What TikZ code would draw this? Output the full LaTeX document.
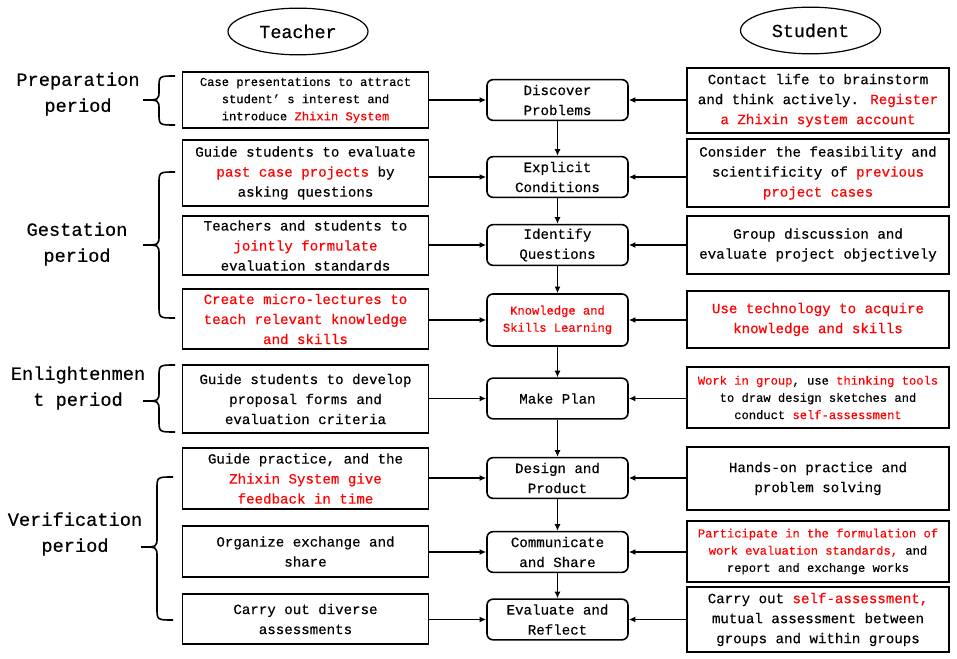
\documentclass[tikz,border=0pt]{standalone}
\usepackage{fontspec}
\setmainfont[FakeBold=0.4,AutoFakeBold=0.4]{Liberation Mono}
\usetikzlibrary{shapes.geometric,arrows.meta}
\definecolor{hl}{RGB}{255,0,0}
\newcommand{\marked}[1]{\textcolor{hl}{#1}}
\newcommand{\roleoval}[3]{%
 \node[role] ({#1}) at ({#2}) {#3};%
}
\newcommand{\periodlabel}[3]{%
 \node[period] ({#1}) at ({#2}) {#3};%
}
\newcommand{\taskbox}[4][]{%
 \node[task,#1] ({#2}) at ({#3}) {\bfseries #4};%
}
\newcommand{\studentbox}[4][]{%
 \node[task,minimum width=196.5pt,#1] ({#2}) at ({#3}) {\bfseries #4};%
}
\newcommand{\stepnode}[4][]{%
 \node[stepbox,#1] ({#2}) at ({#3}) {\bfseries #4};%
}
% right x, top y, bottom y, tip y
\newcommand{\periodbrace}[4]{%
 \draw[line width=1.2pt] (#1,#2) .. controls (#1-16,#2) .. (#1-16,#2+12) -- (#1-16,#4-10)
   .. controls (#1-16,#4) .. (#1-32,#4) .. controls (#1-16,#4) .. (#1-16,#4+10)
   -- (#1-16,#3-12) .. controls (#1-16,#3) .. (#1,#3);%
}

\begin{document}
\begin{tikzpicture}[x=0.75pt,y=-0.75pt,
  every node/.style={align=center,inner sep=0pt},
  role/.style={draw,ellipse,line width=0.9pt,minimum width=105pt,minimum height=35pt,
    font=\fontsize{13.8}{18}\selectfont},
  period/.style={font=\fontsize{14}{19.5}\selectfont},
  task/.style={draw,line width=1.2pt,minimum width=184.5pt,
    font=\fontsize{10.6}{15}\selectfont},
  stepbox/.style={draw,line width=1.2pt,rounded corners=4.5pt,minimum width=105.75pt,
    minimum height=30.5pt,font=\fontsize{10.6}{15}\selectfont},
  small/.style={font=\fontsize{9.1}{12.9}\selectfont},
  flow/.style={line width=1.3pt,-{Latex[length=5pt,width=4.5pt]}}]
  \useasboundingbox (0,0) rectangle (957,659);

  \roleoval{teacher}{298,31.5}{Teacher}
  \roleoval{student}{810.5,30.5}{Student}

  \periodlabel{prep}{78,94}{Preparation\\period}
  \periodlabel{gest}{77,244}{Gestation\\period}
  \periodlabel{enl}{78,388}{Enlightenmen\\t period}
  \periodlabel{veri}{75,534}{Verification\\period}
  \periodbrace{175}{76}{125}{100}
  \periodbrace{175}{172}{318}{245}
  \periodbrace{175}{365}{432}{401}
  \periodbrace{173}{477}{620}{547}

  \taskbox[small,minimum height=42pt]{t1}{305.5,100}{Case presentations to attract\\student’ s interest and\\introduce \marked{Zhixin System}}
  \taskbox[minimum height=49.5pt]{t2}{305.5,173}{Guide students to evaluate\\\marked{past case projects} by\\asking questions}
  \taskbox[minimum height=44.25pt]{t3}{305.5,245.5}{Teachers and students to\\\marked{jointly formulate}\\evaluation standards}
  \taskbox[minimum height=45pt]{t4}{305.5,319}{\marked{Create micro-lectures to}\\\marked{teach relevant knowledge}\\\marked{and skills}}
  \taskbox[minimum height=51pt]{t5}{305.5,399}{Guide students to develop\\proposal forms and\\evaluation criteria}
  \taskbox[minimum height=45.75pt]{t6}{305.5,478.5}{Guide practice, and the\\\marked{Zhixin System give}\\\marked{feedback in time}}
  \taskbox[minimum height=38.25pt]{t7}{305.5,551.5}{Organize exchange and\\share}
  \taskbox[minimum height=37.5pt]{t8}{305.5,619}{Carry out diverse\\assessments}

  \stepnode{m1}{557.5,100}{Discover\\Problems}
  \stepnode{m2}{557.5,177}{Explicit\\Conditions}
  \stepnode{m3}{557.5,245}{Identify\\Questions}
  \stepnode[small,text=hl,minimum height=39pt]{m4}{557.5,320}{Knowledge and\\Skills Learning}
  \stepnode{m5}{557.5,398.5}{Make Plan}
  \stepnode{m6}{557.5,478}{Design and\\Product}
  \stepnode{m7}{557.5,552}{Communicate\\and Share}
  \stepnode{m8}{557.5,619.5}{Evaluate and\\Reflect}

  \studentbox[minimum height=48.75pt]{r1}{818,100.5}{Contact life to brainstorm\\and think actively. \marked{Register}\\\marked{a Zhixin system account}}
  \studentbox[minimum height=51pt]{r2}{818,173}{Consider the feasibility and\\scientificity of \marked{previous}\\\marked{project cases}}
  \studentbox[minimum height=43.5pt]{r3}{818,245}{Group discussion and\\evaluate project objectively}
  \studentbox[minimum height=42.75pt]{r4}{818,319.5}{\marked{Use technology to acquire}\\\marked{knowledge and skills}}
  \studentbox[small,minimum height=45.75pt]{r5}{818,397.5}{\marked{Work in group}, use \marked{thinking tools}\\to draw design sketches and\\conduct \marked{self-assessment}}
  \studentbox[minimum height=47.25pt]{r6}{818,478.5}{Hands-on practice and\\problem solving}
  \studentbox[small,minimum height=45.75pt]{r7}{818,551.5}{\marked{Participate in the formulation of}\\\marked{work evaluation standards,} and\\report and exchange works}
  \studentbox[minimum height=48.75pt]{r8}{818,619.5}{Carry out \marked{self-assessment,}\\mutual assessment between\\groups and within groups}

  \draw[flow] (t1.east |- m1) -- (m1);
  \draw[flow] (t2.east |- m2) -- (m2);
  \draw[flow] (t3.east |- m3) -- (m3);
  \draw[flow] (t4.east |- m4) -- (m4);
  \draw[flow] (t5.east |- m5) -- (m5);
  \draw[flow] (t6.east |- m6) -- (m6);
  \draw[flow] (t7.east |- m7) -- (m7);
  \draw[flow] (t8.east |- m8) -- (m8);
  \draw[flow] (r1.west |- m1) -- (m1);
  \draw[flow] (r2.west |- m2) -- (m2);
  \draw[flow] (r3.west |- m3) -- (m3);
  \draw[flow] (r4.west |- m4) -- (m4);
  \draw[flow] (r5.west |- m5) -- (m5);
  \draw[flow] (r6.west |- m6) -- (m6);
  \draw[flow] (r7.west |- m7) -- (m7);
  \draw[flow] (r8.west |- m8) -- (m8);
  \draw[flow] (m1) -- (m2);
  \draw[flow] (m2) -- (m3);
  \draw[flow] (m3) -- (m4);
  \draw[flow] (m4) -- (m5);
  \draw[flow] (m5) -- (m6);
  \draw[flow] (m6) -- (m7);
  \draw[flow] (m7) -- (m8);
\end{tikzpicture}
\end{document}
